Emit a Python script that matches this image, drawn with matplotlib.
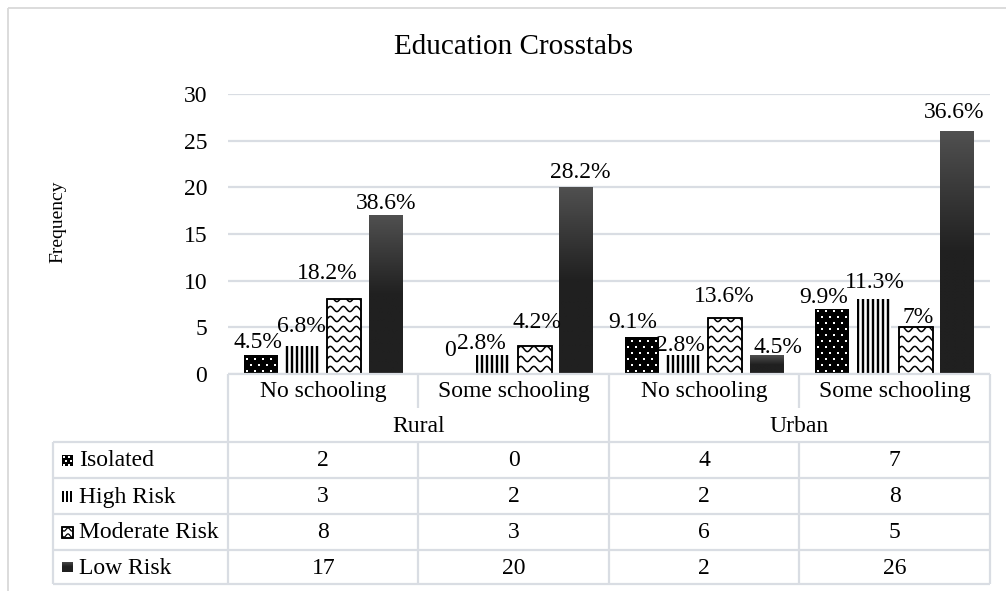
import numpy as np
import matplotlib
matplotlib.use("Agg")
import matplotlib.pyplot as plt
from matplotlib.patches import Rectangle
from matplotlib.lines import Line2D

plt.rcParams["font.family"] = ["Liberation Serif", "DejaVu Serif"]

# ---- data -------------------------------------------------------------
categories = ["No schooling", "Some schooling", "No schooling", "Some schooling"]
groups = ["Rural", "Urban"]
series_names = ["Isolated", "High Risk", "Moderate Risk", "Low Risk"]

isolated = [2, 0, 4, 7]
high_risk = [3, 2, 2, 8]
moderate_risk = [8, 3, 6, 5]
low_risk = [17, 20, 2, 26]

isolated_pct = ["4.5%", "0", "9.1%", "9.9%"]
high_risk_pct = ["6.8%", "2.8%", "2.8%", "11.3%"]
moderate_risk_pct = ["18.2%", "4.2%", "13.6%", "7%"]
low_risk_pct = ["38.6%", "28.2%", "4.5%", "36.6%"]

y_ticks = [0, 5, 10, 15, 20, 25, 30]

values = [isolated, high_risk, moderate_risk, low_risk]
pct_labels = [isolated_pct, high_risk_pct, moderate_risk_pct, low_risk_pct]

# label nudges in pixels (dx, dy) relative to the default spot above each bar
label_nudge = [
    [(-3, -1), (-1, 10), (-9, 0), (-9, -3)],
    [(-1, 5), (-12, -2), (-3, -4), (1, 3)],
    [(-17, 12), (2, 10), (-1, 7), (3, -4)],
    [(0, -2), (4, 1), (11, -6), (-3, 5)],
]

# ---- figure geometry (pixels) -----------------------------------------
W, H = 1006, 591
fig = plt.figure(figsize=(W / 100, H / 100), dpi=100)

plot_l, plot_r, plot_t, plot_b = 228, 990, 94, 374
ax = fig.add_axes([plot_l / W, (H - plot_b) / H,
                   (plot_r - plot_l) / W, (plot_b - plot_t) / H])
ax.set_xlim(-0.5, len(categories) - 0.5)
ax.set_ylim(0, 30)
sx = (plot_r - plot_l) / len(categories)   # px per x unit
sy = (plot_b - plot_t) / 30.0              # px per y unit

GRID = "#d9dde3"
TEXT_SIZE = 17

for s in ax.spines.values():
    s.set_visible(False)
ax.set_yticks(y_ticks)
ax.set_yticklabels([str(t) for t in y_ticks], fontsize=TEXT_SIZE)
ax.set_xticks([])
ax.tick_params(axis="y", length=0, pad=15)
ax.yaxis.grid(True, color=GRID, linewidth=1.6)
ax.set_axisbelow(True)


# ---- fill patterns ----------------------------------------------------
def draw_dots(a, bar, px_x, px_y, step=8.0, row=6.0, size=3.0):
    x0, y0 = bar.get_x(), bar.get_y()
    w, h = bar.get_width(), bar.get_height()
    if h == 0:
        return
    dx, dy = step / px_x, row / px_y
    pts = []
    k = 0
    yy = y0 + dy * 0.5
    while yy < y0 + h:
        off = (dx * 0.5) if k % 2 else 0.0
        xx = x0 + dx * 0.35 + off
        while xx < x0 + w:
            pts.append((xx, yy))
            xx += dx
        yy += dy
        k += 1
    if pts:
        p = np.array(pts)
        sc = a.scatter(p[:, 0], p[:, 1], s=size, marker="s", color="white",
                       linewidths=0, zorder=bar.get_zorder() + 0.1)
        sc.set_clip_path(bar)


def draw_stripes(a, bar, px_x, period=5.0, width_px=2.4):
    x0, y0 = bar.get_x(), bar.get_y()
    w, h = bar.get_width(), bar.get_height()
    if h == 0:
        return
    d = period / px_x
    xs = np.arange(x0 + (width_px / 2) / px_x, x0 + w, d)
    lc = a.vlines(xs, y0, y0 + h, colors="black",
                  linewidth=width_px * 0.72, zorder=bar.get_zorder() + 0.1)
    lc.set_clip_path(bar)


def draw_waves(a, bar, px_x, px_y, period=13.0, amp=2.6, row=10.0, lw=1.1):
    x0, y0 = bar.get_x(), bar.get_y()
    w, h = bar.get_width(), bar.get_height()
    if h == 0:
        return
    xs = np.linspace(x0, x0 + w, 120)
    phase = 2 * np.pi * (xs - x0) * px_x / period
    yy = y0 + (row * 0.5) / px_y
    while yy < y0 + h + amp / px_y:
        ln = Line2D(xs, yy + (amp / px_y) * np.sin(phase), color="black",
                    linewidth=lw, zorder=bar.get_zorder() + 0.1)
        a.add_line(ln)
        ln.set_clip_path(bar)
        yy += row / px_y
    # keep the outline on top of the wave lines
    a.add_patch(Rectangle((x0, y0), w, h, facecolor="none", edgecolor="black",
                          linewidth=bar.get_linewidth(),
                          zorder=bar.get_zorder() + 0.2))


def gradient_rgb(n=200):
    top = np.array([0x50, 0x50, 0x50]) / 255.0
    dark = np.array([0x20, 0x20, 0x20]) / 255.0
    f = np.linspace(0, 1, n)                 # 0 at top, 1 at bottom
    t = np.clip(f / 0.5, 0, 1)[:, None]
    return top * (1 - t) + dark * t


def draw_gradient(a, bar, inverted=False):
    x0, y0 = bar.get_x(), bar.get_y()
    w, h = bar.get_width(), bar.get_height()
    if h == 0:
        return
    img = gradient_rgb()[:, None, :]
    if inverted:
        ext = [x0, x0 + w, y0 + h, y0]
    else:
        ext = [x0, x0 + w, y0, y0 + h]
    im = a.imshow(img, extent=ext, origin="upper", aspect="auto",
                  interpolation="bilinear", zorder=bar.get_zorder() + 0.1)
    im.set_clip_path(bar)


# ---- bars -------------------------------------------------------------
x = np.arange(len(categories))
bar_w = 34.0 / sx
stride = 41.7 / sx

face = ["black", "white", "white", "none"]
edge = ["none", "none", "black", "none"]
lwid = [0, 0, 1.1, 0]

for i, vals in enumerate(values):
    xpos = x + (i - 1.5) * stride
    bars = ax.bar(xpos, vals, width=bar_w, color=face[i], edgecolor=edge[i],
                  linewidth=lwid[i], zorder=2)
    for j, b in enumerate(bars):
        if i == 0:
            draw_dots(ax, b, sx, sy)
        elif i == 1:
            draw_stripes(ax, b, sx)
        elif i == 2:
            draw_waves(ax, b, sx, sy)
        else:
            draw_gradient(ax, b)
        ndx, ndy = label_nudge[i][j]
        ax.annotate(pct_labels[i][j], (xpos[j], vals[j]),
                    xytext=(ndx, 14 + ndy), textcoords="offset pixels",
                    ha="center", va="center", fontsize=TEXT_SIZE,
                    annotation_clip=False, zorder=5)

ax.set_xlim(-0.5, len(categories) - 0.5)
ax.set_ylim(0, 30)

# ---- overlay in pixel coordinates: border, titles, data table ---------
ov = fig.add_axes([0, 0, 1, 1], zorder=-1)
ov.set_xlim(0, W)
ov.set_ylim(H, 0)
ov.axis("off")

ov.add_patch(Rectangle((8, 8), W + 20, H + 20, facecolor="none",
                       edgecolor="#d9d9d9", linewidth=1.3))

fig.text(514 / W, 1 - 47 / H, "Education Crosstabs", ha="center",
         va="center", fontsize=21)
fig.text(58 / W, 1 - 222 / H, "Frequency", ha="center", va="center",
         rotation=90, fontsize=14)

tb = fig.add_axes([0, 0, 1, 1], zorder=3)
tb.set_xlim(0, W)
tb.set_ylim(H, 0)
tb.axis("off")

col_x = [plot_l + k * sx for k in range(len(categories) + 1)]
hdr1_top, hdr1_bot, hdr2_bot = 374, 408, 442
row_edges = [442, 478, 514, 550, 584]
leg_l = 53
TL = dict(color=GRID, linewidth=1.6, solid_capstyle="butt")

# horizontal lines
tb.plot([col_x[0], col_x[-1]], [hdr1_top, hdr1_top], **TL)
for yv in row_edges:
    tb.plot([leg_l, col_x[-1]], [yv, yv], **TL)
# vertical lines
tb.plot([col_x[0], col_x[0]], [hdr1_top, row_edges[-1]], **TL)
tb.plot([col_x[-1], col_x[-1]], [hdr1_top, row_edges[-1]], **TL)
tb.plot([leg_l, leg_l], [row_edges[0], row_edges[-1]], **TL)
for k in (1, 3):
    tb.plot([col_x[k], col_x[k]], [hdr1_top, hdr1_bot], **TL)
    tb.plot([col_x[k], col_x[k]], [row_edges[0], row_edges[-1]], **TL)
tb.plot([col_x[2], col_x[2]], [hdr1_top, row_edges[-1]], **TL)

# headers
for k, name in enumerate(categories):
    tb.text((col_x[k] + col_x[k + 1]) / 2, (hdr1_top + hdr1_bot) / 2 + 1,
            name, ha="center", va="center", fontsize=TEXT_SIZE)
for g, gname in enumerate(groups):
    tb.text(col_x[2 * g + 1], (hdr1_bot + hdr2_bot) / 2 + 1, gname,
            ha="center", va="center", fontsize=TEXT_SIZE)

# rows with legend keys
for i, name in enumerate(series_names):
    yc = (row_edges[i] + row_edges[i + 1]) / 2
    tb.text(79, yc + 1, name, ha="left", va="center", fontsize=TEXT_SIZE)
    for k, v in enumerate(values[i]):
        tb.text((col_x[k] + col_x[k + 1]) / 2, yc + 1, str(v), ha="center",
                va="center", fontsize=TEXT_SIZE)
    key = Rectangle((62, yc - 5.5), 11, 11,
                    facecolor=face[i] if face[i] != "none" else "white",
                    edgecolor=edge[i], linewidth=lwid[i], zorder=4)
    tb.add_patch(key)
    if i == 0:
        draw_dots(tb, key, 1.0, 1.0, step=5.0, row=4.0, size=2.5)
    elif i == 1:
        draw_stripes(tb, key, 1.0, period=4.0, width_px=2.0)
    elif i == 2:
        draw_waves(tb, key, 1.0, 1.0, period=8.0, amp=1.6, row=6.0, lw=0.9)
    else:
        draw_gradient(tb, key, inverted=True)

tb.set_xlim(0, W)
tb.set_ylim(H, 0)

fig.savefig("out.png", dpi=100)
